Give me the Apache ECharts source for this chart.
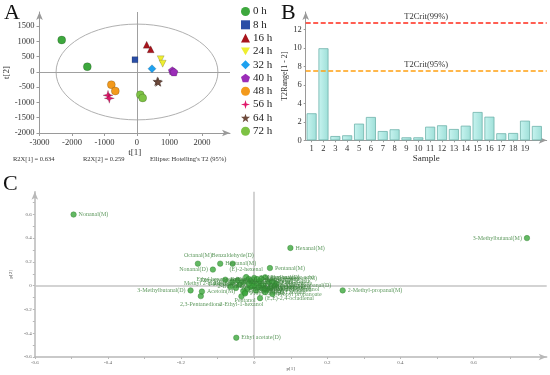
<!DOCTYPE html>
<html><head><meta charset="utf-8">
<script src="https://cdn.jsdelivr.net/npm/echarts@6/dist/echarts.min.js"></script>
<style>html,body{margin:0;padding:0;background:#fff}#c{width:550px;height:375px}</style>
</head><body><div id="c"></div><script>
// ---------- Panel A: PCA scores ----------
const timeGroups = ['0 h','8 h','16 h','24 h','32 h','40 h','48 h','56 h','64 h','72 h'];
const scoreT1 = [[-2317,-1529],[-62],[298,421],[729,790],[462],[1087,1138],[-790,-667],[-892,-852],[625,655],[102,175]];
const scoreT2 = [[1049,174],[403],[895,744],[416,272],[108],[43,0],[-416,-623],[-764,-862],[-305,-328],[-744,-852]];
const ellipseCenter = [0, 0];
const ellipseSemiAxes = [2490, 1570];
const aXTicks = [-3000,-2000,-1000,0,1000,2000];
const aYTicks = [-2000,-1500,-1000,-500,0,500,1000,1500];
const r2x1 = 'R2X[1] = 0.634', r2x2 = 'R2X[2] = 0.259', ellipseNote = "Ellipse: Hotelling's T2 (95%)";

// ---------- Panel B: T2Range ----------
const sampleIds = [1,2,3,4,5,6,7,8,9,10,11,12,13,14,15,16,17,18,19,20];
const t2Range = [2.92,9.95,0.46,0.54,1.80,2.52,1.00,1.19,0.32,0.32,1.47,1.62,1.22,1.58,3.06,2.55,0.76,0.79,2.12,1.55];
const t2Crit99 = 12.71, t2Crit95 = 7.52;
const bXTicks = [1,2,3,4,5,6,7,8,9,10,11,12,13,14,15,16,17,18,19];
const bYTicks = [0,2,4,6,8,10,12];

// ---------- Panel C: loadings ----------
const loadingNames = ['Nonanal(M)','3-Methylbutanal(M)','Hexanal(M)','2-Methyl-propanal(M)','Ethyl acetate(D)',
 'Octanal(M)','Heptanal(M)','Benzaldehyde(D)','Nonanal(D)','Pentanal(M)','3-Methylbutanal(D)','2,3-Pentanedione',
 '(E)-2-hexenal','Ethyl hexanoate(D)','Methyl 2-methylbutanoate','Acetoin(M)','Pentanol','2-Ethyl-1-hexanol',
 '(E,E)-2,4-octadienal','Propyl propanoate','2-Methylpropanal(D)','3-Methylbutanoic acid','Propanal(D)','Butanal(D)',
 'Ethanol','Acetone','2-Butanone','Butanal(M)','Pentanal(D)','Hexanal(D)','Heptanal(D)','Octanal(D)','1-Propanol',
 '2-Methyl-1-propanol','3-Methyl-1-butanol','1-Hexanol','1-Octen-3-ol','2-Pentylfuran','2-Heptanone','Butyl acetate',
 'Isoamyl acetate','Acetic acid','Methyl acetate','(E)-2-heptenal','Propanoic acid','Ethyl propanoate(M)','Dimethyl disulfide',
 'Ethyl butanoate(M)','Ethyl butanoate(D)','2-Pentanone','Butanoic acid','Hexyl acetate','Propyl acetate'];
const loadingP1 = [-0.494,0.746,0.099,0.242,-0.049,-0.154,-0.093,-0.059,-0.113,0.043,-0.174,-0.146,
 -0.022,-0.015,-0.004,-0.143,-0.025,-0.035,0.016,0.050,0.056,0.000,0.030,-0.079,
 0.000,0.010,-0.010,0.020,-0.030,0.015,-0.020,0.025,-0.040,0.005,0.035,-0.050,0.040,-0.060,0.060,-0.065,
 0.008,-0.045,0.030,0.045,-0.030,0.020,-0.010,
 -0.005,0.012,-0.015,0.028,0.050,-0.025];
const loadingP2 = [0.598,0.400,0.317,-0.040,-0.438,0.185,0.185,0.185,0.135,0.148,-0.040,-0.088,
 0.072,0.055,0.022,-0.050,-0.055,-0.090,-0.105,-0.070,0.000,0.065,0.070,0.050,
 0.000,0.020,-0.010,-0.020,0.030,0.040,-0.030,0.005,0.010,-0.040,-0.035,-0.020,0.030,0.030,0.015,-0.010,
 0.055,0.045,-0.055,-0.015,-0.045,0.060,0.040,
 -0.005,-0.012,0.018,-0.028,0.035,-0.065];
const loadingLabelSide = ['right','left','right','right','right','top','right','top','left','right','left','bottom',
 'top','left','left','right','bottom','bottom','right','right','right','right','right','right',
 'right','right','left','right','right','right','right','right','left','right','right','right','right','right','right','right',
 'right','right','right','right','right','right','left',
 'right','right','left','right','right','right'];
const cTicks = [-0.6,-0.4,-0.2,0,0.2,0.4,0.6];
const cMinorTicks = [-0.6,-0.5,-0.4,-0.3,-0.2,-0.1,0,0.1,0.2,0.3,0.4,0.5,0.6,0.7];

// ---------- styles ----------
const SERIF = "'Liberation Serif','Times New Roman',serif";
const groupColors = ['#3da83d','#2a4ea6','#a8141c','#eeee30','#1ea1ef','#9b2db8','#f39a1c','#e0176a','#6e4a3c','#7dc244'];
const groupSymbols = ['circle','rect','triangle','path://M0,0 L10,0 L5,8.66 Z','diamond',
 'path://M5,0 L10,3.6 L8.1,9.5 L1.9,9.5 L0,3.6 Z','circle',
 'path://M5,0 L6.1,3.9 L10,5 L6.1,6.1 L5,10 L3.9,6.1 L0,5 L3.9,3.9 Z',
 'path://M5,0 L6.2,3.6 L10,3.6 L7,5.9 L8.1,9.5 L5,7.3 L1.9,9.5 L3,5.9 L0,3.6 L3.8,3.6 Z','circle'];
const groupSizes = [8,6,7,7,8,8,8,10,9,8];
const axisGray = '#9a9a9a';
const plain = v => String(v);

function arrowAxis(color, w) {
  return {show:true, onZero:false, symbol:['none','arrow'], symbolSize:[5,8], lineStyle:{color:color, width:w||1}};
}

const series = [];
timeGroups.forEach((g, i) => {
  series.push({
    type:'scatter', name:g, xAxisIndex:0, yAxisIndex:0,
    data: scoreT1[i].map((x, j) => [x, scoreT2[i][j]]),
    symbol: groupSymbols[i], symbolSize: groupSizes[i],
    itemStyle:{color:groupColors[i], borderColor:'rgba(0,0,0,0.35)', borderWidth:0.5, opacity:1},
    z:5,
    markLine: i === 0 ? {symbol:'none', silent:true, animation:false, label:{show:false},
      lineStyle:{color:'#a0a0a0', width:1, type:'solid'}, data:[{xAxis:0},{yAxis:0}]} : undefined
  });
});
series.push({
  type:'custom', name:'ellipse', xAxisIndex:0, yAxisIndex:0, silent:true, z:2,
  data:[[ellipseCenter[0], ellipseCenter[1], ellipseSemiAxes[0], ellipseSemiAxes[1]]],
  renderItem:(params, api) => {
    const c = api.coord([api.value(0), api.value(1)]);
    const s = api.size([api.value(2), api.value(3)]);
    return {type:'ellipse', shape:{cx:c[0], cy:c[1], rx:s[0], ry:s[1]}, style:{fill:'none', stroke:'#b0b0b0', lineWidth:1}};
  }
});
series.push({
  type:'bar', name:'T2Range', xAxisIndex:1, yAxisIndex:1,
  data: sampleIds.map((s, i) => [s, t2Range[i]]),
  barWidth:10,
  itemStyle:{color:new echarts.graphic.LinearGradient(0,0,1,0,[{offset:0,color:'#c8f4f0'},{offset:1,color:'#9edfd8'}]), borderColor:'#6fb3ab', borderWidth:0.8},
  markLine:{symbol:'none', silent:true, animation:false,
    data:[
      {yAxis:t2Crit99, lineStyle:{color:'#ff2a1a', width:1.6, type:[5,2.5]}, label:{formatter:'T2Crit(99%)'}},
      {yAxis:t2Crit95, lineStyle:{color:'#ffa010', width:1.6, type:[5,2.5]}, label:{formatter:'T2Crit(95%)'}}
    ],
    label:{show:true, position:'insideMiddleTop', distance:1, fontFamily:SERIF, fontSize:8.5, color:'#333'}
  }
});
series.push({
  type:'scatter', name:'loadings', xAxisIndex:2, yAxisIndex:2,
  data: loadingNames.map((n, i) => ({name:n, value:[loadingP1[i], loadingP2[i]], label:{position:loadingLabelSide[i]}})),
  symbolSize:5.5,
  itemStyle:{color:'#3ca83c', borderColor:'#2a7d2a', borderWidth:0.5},
  label:{show:true, formatter:'{b}', fontFamily:SERIF, fontSize:6, color:'#367f36', distance:2},
  z:5,
  markLine:{symbol:'none', silent:true, animation:false, label:{show:false},
    lineStyle:{color:'#c4c4c4', width:1.5, type:'solid'}, data:[{xAxis:0},{yAxis:0}]}
});

const option = {
  animation:false,
  backgroundColor:'#fff',
  textStyle:{fontFamily:SERIF},
  grid:[
    {left:39.5, top:12, width:190.5, height:121},
    {left:305.7, top:12, width:241, height:128.3},
    {left:18.3, top:191.7, width:528.4, height:165.3}
  ],
  legend:{
    orient:'vertical', left:241, top:6, itemWidth:9, itemHeight:9, itemGap:2.3, padding:0,
    data:timeGroups, textStyle:{fontFamily:SERIF, fontSize:11, color:'#222', lineHeight:11, padding:[0,0,0,-2]},
    itemStyle:{borderWidth:0},
    selectedMode:false
  },
  xAxis:[
    {type:'value', gridIndex:0, min:-3000, max:2862, name:'t[1]', nameLocation:'middle', nameGap:14,
     nameTextStyle:{fontFamily:SERIF, fontSize:9, color:'#333'},
     axisLine:arrowAxis(axisGray), splitLine:{show:false},
     axisTick:{show:true, length:3, lineStyle:{color:axisGray}, customValues:aXTicks},
     axisLabel:{customValues:aXTicks, formatter:plain, fontFamily:SERIF, fontSize:8.5, color:'#333', margin:5}},
    {type:'value', gridIndex:1, min:0.5, max:20.83, name:'Sample', nameLocation:'middle', nameGap:14,
     nameTextStyle:{fontFamily:SERIF, fontSize:9, color:'#333'},
     axisLine:arrowAxis(axisGray), splitLine:{show:false},
     axisTick:{show:true, length:2, lineStyle:{color:axisGray}, customValues:bXTicks},
     axisLabel:{customValues:bXTicks, formatter:plain, fontFamily:SERIF, fontSize:8.5, color:'#333', margin:4}},
    {type:'value', gridIndex:2, min:-0.6, max:0.8, name:'p[1]', nameLocation:'middle', nameGap:9,
     nameTextStyle:{fontFamily:SERIF, fontSize:5, color:'#555'},
     axisLine:arrowAxis('#b8b8b8', 1.5), splitLine:{show:false},
     axisTick:{show:true, length:2, lineStyle:{color:'#b8b8b8'}, customValues:cMinorTicks},
     axisLabel:{customValues:cTicks, formatter:plain, fontFamily:SERIF, fontSize:5, color:'#666', margin:3}}
  ],
  yAxis:[
    {type:'value', gridIndex:0, min:-2000, max:1967, name:'t[2]', nameLocation:'middle', nameGap:26,
     nameTextStyle:{fontFamily:SERIF, fontSize:9, color:'#333'},
     axisLine:arrowAxis(axisGray), splitLine:{show:false},
     axisTick:{show:true, length:3, lineStyle:{color:axisGray}, customValues:aYTicks},
     axisLabel:{customValues:aYTicks, formatter:plain, fontFamily:SERIF, fontSize:8.5, color:'#333', margin:5}},
    {type:'value', gridIndex:1, min:0, max:13.87, name:'T2Range[1 - 2]', nameLocation:'middle', nameGap:11,
     nameTextStyle:{fontFamily:SERIF, fontSize:8, color:'#333'},
     axisLine:arrowAxis(axisGray), splitLine:{show:false},
     axisTick:{show:true, length:2, lineStyle:{color:axisGray}, customValues:bYTicks},
     axisLabel:{customValues:bYTicks, formatter:plain, fontFamily:SERIF, fontSize:8.5, color:'#333', margin:4}},
    {type:'value', gridIndex:2, min:-0.6, max:0.79, name:'p[2]', nameLocation:'middle', nameGap:11,
     nameTextStyle:{fontFamily:SERIF, fontSize:5, color:'#555'},
     axisLine:arrowAxis('#b8b8b8', 1.5), splitLine:{show:false},
     axisTick:{show:true, length:2, lineStyle:{color:'#b8b8b8'}, customValues:cMinorTicks},
     axisLabel:{customValues:cTicks, formatter:plain, fontFamily:SERIF, fontSize:5, color:'#666', margin:3}}
  ],
  graphic:[
    {type:'text', left:4, top:2, style:{text:'A', font:'22px '+SERIF, fill:'#111'}},
    {type:'text', left:281, top:2, style:{text:'B', font:'22px '+SERIF, fill:'#111'}},
    {type:'text', left:3, top:173, style:{text:'C', font:'22px '+SERIF, fill:'#111'}},
    {type:'text', left:13, top:156, style:{text:r2x1, font:'6.5px '+SERIF, fill:'#333'}},
    {type:'text', left:83, top:156, style:{text:r2x2, font:'6.5px '+SERIF, fill:'#333'}},
    {type:'text', left:150, top:156, style:{text:ellipseNote, font:'6.5px '+SERIF, fill:'#333'}}
  ],
  series:series
};
const chart = echarts.init(document.getElementById('c'), null, {renderer:'canvas'});
chart.setOption(option);
</script></body></html>
